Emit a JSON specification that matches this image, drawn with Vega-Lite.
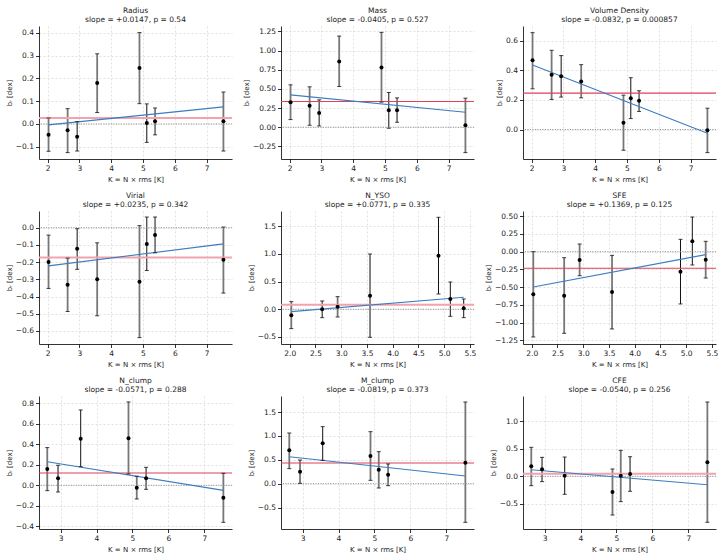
{
  "$schema": "https://vega.github.io/schema/vega-lite/v6.json",
  "padding": {"left": 5, "top": 6, "right": 5, "bottom": 1},
  "background": "white",
  "datasets": {
    "pts": [
      {"p": "Radius", "K": 2.03, "b": -0.047, "lo": -0.12, "hi": 0.026, "q": "l"},
      {"p": "Radius", "K": 2.63, "b": -0.028, "lo": -0.126, "hi": 0.067, "q": "l"},
      {"p": "Radius", "K": 2.93, "b": -0.056, "lo": -0.119, "hi": 0.01, "q": "d"},
      {"p": "Radius", "K": 3.56, "b": 0.18, "lo": 0.05, "hi": 0.308, "q": "l"},
      {"p": "Radius", "K": 4.89, "b": 0.246, "lo": 0.089, "hi": 0.401, "q": "l"},
      {"p": "Radius", "K": 5.12, "b": 0.004, "lo": -0.081, "hi": 0.088, "q": "d"},
      {"p": "Radius", "K": 5.38, "b": 0.012, "lo": -0.048, "hi": 0.07, "q": "d"},
      {"p": "Radius", "K": 7.53, "b": 0.012, "lo": -0.119, "hi": 0.14, "q": "l"},
      {"p": "Mass", "K": 2.03, "b": 0.327, "lo": 0.1, "hi": 0.553, "q": "l"},
      {"p": "Mass", "K": 2.63, "b": 0.279, "lo": 0.026, "hi": 0.527, "q": "l"},
      {"p": "Mass", "K": 2.93, "b": 0.187, "lo": 0.017, "hi": 0.357, "q": "d"},
      {"p": "Mass", "K": 3.56, "b": 0.858, "lo": 0.531, "hi": 1.189, "q": "l"},
      {"p": "Mass", "K": 4.89, "b": 0.78, "lo": 0.327, "hi": 1.237, "q": "l"},
      {"p": "Mass", "K": 5.12, "b": 0.222, "lo": -0.013, "hi": 0.453, "q": "d"},
      {"p": "Mass", "K": 5.38, "b": 0.222, "lo": 0.065, "hi": 0.383, "q": "d"},
      {"p": "Mass", "K": 7.53, "b": 0.026, "lo": -0.331, "hi": 0.379, "q": "l"},
      {"p": "VD", "K": 2.03, "b": 0.467, "lo": 0.275, "hi": 0.654, "q": "l"},
      {"p": "VD", "K": 2.63, "b": 0.37, "lo": 0.203, "hi": 0.535, "q": "l"},
      {"p": "VD", "K": 2.93, "b": 0.359, "lo": 0.219, "hi": 0.499, "q": "d"},
      {"p": "VD", "K": 3.56, "b": 0.325, "lo": 0.214, "hi": 0.438, "q": "l"},
      {"p": "VD", "K": 4.89, "b": 0.045, "lo": -0.14, "hi": 0.232, "q": "l"},
      {"p": "VD", "K": 5.12, "b": 0.212, "lo": 0.074, "hi": 0.35, "q": "d"},
      {"p": "VD", "K": 5.38, "b": 0.194, "lo": 0.122, "hi": 0.262, "q": "d"},
      {"p": "VD", "K": 7.53, "b": -0.005, "lo": -0.156, "hi": 0.144, "q": "l"},
      {"p": "Virial", "K": 2.03, "b": -0.199, "lo": -0.353, "hi": -0.043, "q": "l"},
      {"p": "Virial", "K": 2.63, "b": -0.331, "lo": -0.487, "hi": -0.177, "q": "l"},
      {"p": "Virial", "K": 2.93, "b": -0.123, "lo": -0.242, "hi": -0.006, "q": "d"},
      {"p": "Virial", "K": 3.56, "b": -0.3, "lo": -0.512, "hi": -0.088, "q": "l"},
      {"p": "Virial", "K": 4.89, "b": -0.314, "lo": -0.639, "hi": 0.012, "q": "l"},
      {"p": "Virial", "K": 5.12, "b": -0.095, "lo": -0.249, "hi": 0.062, "q": "d"},
      {"p": "Virial", "K": 5.38, "b": -0.043, "lo": -0.146, "hi": 0.062, "q": "d"},
      {"p": "Virial", "K": 7.53, "b": -0.187, "lo": -0.38, "hi": 0.004, "q": "l"},
      {"p": "NYSO", "K": 2.03, "b": -0.108, "lo": -0.349, "hi": 0.139, "q": "l"},
      {"p": "NYSO", "K": 2.63, "b": 0.0, "lo": -0.151, "hi": 0.151, "q": "d"},
      {"p": "NYSO", "K": 2.93, "b": 0.048, "lo": -0.139, "hi": 0.229, "q": "l"},
      {"p": "NYSO", "K": 3.56, "b": 0.247, "lo": -0.506, "hi": 1.0, "q": "l"},
      {"p": "NYSO", "K": 4.89, "b": 0.97, "lo": 0.277, "hi": 1.663, "q": "d"},
      {"p": "NYSO", "K": 5.12, "b": 0.187, "lo": -0.127, "hi": 0.494, "q": "d"},
      {"p": "NYSO", "K": 5.38, "b": 0.018, "lo": -0.151, "hi": 0.187, "q": "d"},
      {"p": "SFE", "K": 2.03, "b": -0.602, "lo": -1.204, "hi": 0.0, "q": "l"},
      {"p": "SFE", "K": 2.63, "b": -0.621, "lo": -1.152, "hi": -0.085, "q": "l"},
      {"p": "SFE", "K": 2.93, "b": -0.118, "lo": -0.339, "hi": 0.108, "q": "l"},
      {"p": "SFE", "K": 3.56, "b": -0.569, "lo": -1.091, "hi": -0.052, "q": "l"},
      {"p": "SFE", "K": 4.89, "b": -0.282, "lo": -0.738, "hi": 0.174, "q": "d"},
      {"p": "SFE", "K": 5.12, "b": 0.146, "lo": -0.188, "hi": 0.489, "q": "d"},
      {"p": "SFE", "K": 5.38, "b": -0.113, "lo": -0.372, "hi": 0.146, "q": "l"},
      {"p": "Nclump", "K": 2.63, "b": 0.159, "lo": -0.052, "hi": 0.367, "q": "l"},
      {"p": "Nclump", "K": 2.93, "b": 0.068, "lo": -0.065, "hi": 0.195, "q": "l"},
      {"p": "Nclump", "K": 3.56, "b": 0.454, "lo": 0.182, "hi": 0.733, "q": "d"},
      {"p": "Nclump", "K": 4.89, "b": 0.457, "lo": 0.11, "hi": 0.811, "q": "l"},
      {"p": "Nclump", "K": 5.12, "b": -0.023, "lo": -0.133, "hi": 0.088, "q": "l"},
      {"p": "Nclump", "K": 5.38, "b": 0.068, "lo": -0.039, "hi": 0.175, "q": "l"},
      {"p": "Nclump", "K": 7.53, "b": -0.12, "lo": -0.36, "hi": 0.117, "q": "l"},
      {"p": "Mclump", "K": 2.63, "b": 0.699, "lo": 0.315, "hi": 1.063, "q": "l"},
      {"p": "Mclump", "K": 2.93, "b": 0.252, "lo": 0.007, "hi": 0.497, "q": "l"},
      {"p": "Mclump", "K": 3.56, "b": 0.846, "lo": 0.49, "hi": 1.196, "q": "d"},
      {"p": "Mclump", "K": 4.89, "b": 0.58, "lo": 0.07, "hi": 1.091, "q": "l"},
      {"p": "Mclump", "K": 5.12, "b": 0.294, "lo": -0.091, "hi": 0.671, "q": "l"},
      {"p": "Mclump", "K": 5.38, "b": 0.189, "lo": -0.042, "hi": 0.413, "q": "l"},
      {"p": "Mclump", "K": 7.53, "b": 0.441, "lo": -0.811, "hi": 1.713, "q": "l"},
      {"p": "CFE", "K": 2.63, "b": 0.181, "lo": -0.169, "hi": 0.524, "q": "l"},
      {"p": "CFE", "K": 2.93, "b": 0.127, "lo": -0.096, "hi": 0.343, "q": "l"},
      {"p": "CFE", "K": 3.56, "b": 0.012, "lo": -0.325, "hi": 0.349, "q": "d"},
      {"p": "CFE", "K": 4.89, "b": -0.283, "lo": -0.699, "hi": 0.133, "q": "l"},
      {"p": "CFE", "K": 5.12, "b": 0.012, "lo": -0.458, "hi": 0.47, "q": "l"},
      {"p": "CFE", "K": 5.38, "b": 0.042, "lo": -0.271, "hi": 0.355, "q": "l"},
      {"p": "CFE", "K": 7.53, "b": 0.253, "lo": -0.831, "hi": 1.343, "q": "l"}
    ],
    "means": [
      {"p": "Radius", "mean": 0.026, "kind": "pink"},
      {"p": "Mass", "mean": 0.335, "kind": "red"},
      {"p": "VD", "mean": 0.246, "kind": "red"},
      {"p": "Virial", "mean": -0.173, "kind": "pink"},
      {"p": "NYSO", "mean": 0.084, "kind": "pink"},
      {"p": "SFE", "mean": -0.235, "kind": "red"},
      {"p": "Nclump", "mean": 0.12, "kind": "red"},
      {"p": "Mclump", "mean": 0.434, "kind": "red"},
      {"p": "CFE", "mean": 0.048, "kind": "pink"}
    ],
    "fits": [
      {"p": "Radius", "K": 2.03, "fit": -0.004}, {"p": "Radius", "K": 7.53, "fit": 0.075},
      {"p": "Mass", "K": 2.03, "fit": 0.422}, {"p": "Mass", "K": 7.53, "fit": 0.196},
      {"p": "VD", "K": 2.03, "fit": 0.435}, {"p": "VD", "K": 7.53, "fit": -0.025},
      {"p": "Virial", "K": 2.03, "fit": -0.222}, {"p": "Virial", "K": 7.53, "fit": -0.094},
      {"p": "NYSO", "K": 2.03, "fit": -0.042}, {"p": "NYSO", "K": 5.38, "fit": 0.217},
      {"p": "SFE", "K": 2.03, "fit": -0.499}, {"p": "SFE", "K": 5.38, "fit": -0.042},
      {"p": "Nclump", "K": 2.63, "fit": 0.23}, {"p": "Nclump", "K": 7.53, "fit": -0.049},
      {"p": "Mclump", "K": 2.63, "fit": 0.566}, {"p": "Mclump", "K": 7.53, "fit": 0.161},
      {"p": "CFE", "K": 2.63, "fit": 0.12}, {"p": "CFE", "K": 7.53, "fit": -0.151}
    ]
  },
  "columns": 3,
  "bounds": "flush",
  "spacing": {"row": 52, "column": 49},
  "concat": [
    {
      "title": {"text": ["Radius", "slope = +0.0147, p = 0.54"]},
      "width": 193, "height": 133,
      "layer": [
        {"data": {"name": "pts"}, "transform": [{"filter": "datum.p == 'Radius'"}], "mark": "rule", "encoding": {
          "x": {"field": "K", "type": "quantitative", "scale": {"domain": [1.73, 7.8], "nice": false, "zero": false}, "axis": {"title": "K = N × rms [K]", "values": [2, 3, 4, 5, 6, 7], "format": "d"}},
          "y": {"field": "lo", "type": "quantitative", "scale": {"domain": [-0.154, 0.43], "nice": false, "zero": false}, "axis": {"title": "bᵣ [dex]", "values": [-0.1, 0, 0.1, 0.2, 0.3, 0.4], "format": ".1f"}},
          "y2": {"field": "hi"},
          "color": {"condition": {"test": "datum.q == 'd'", "value": "#111111"}, "value": "#777777"},
          "strokeWidth": {"condition": {"test": "datum.q == 'd'", "value": 1}, "value": 1.8}}},
        {"data": {"values": [{}]}, "mark": {"type": "rule", "color": "#8c8c8c", "strokeDash": [1.2, 1.3], "strokeWidth": 0.9}, "encoding": {
          "y": {"datum": 0, "type": "quantitative", "scale": {"domain": [-0.154, 0.43], "nice": false, "zero": false}, "axis": {"title": "bᵣ [dex]", "values": [-0.1, 0, 0.1, 0.2, 0.3, 0.4], "format": ".1f"}}}},
        {"data": {"name": "means"}, "transform": [{"filter": "datum.p == 'Radius'"}], "mark": "rule", "encoding": {
          "y": {"field": "mean", "type": "quantitative", "scale": {"domain": [-0.154, 0.43], "nice": false, "zero": false}, "axis": {"title": "bᵣ [dex]", "values": [-0.1, 0, 0.1, 0.2, 0.3, 0.4], "format": ".1f"}},
          "color": {"condition": {"test": "datum.kind == 'pink'", "value": "#f2a3ad"}, "value": "#e0405a"}, "strokeWidth": {"condition": {"test": "datum.kind == 'pink'", "value": 2}, "value": 1.1}}},
        {"data": {"name": "fits"}, "transform": [{"filter": "datum.p == 'Radius'"}], "mark": {"type": "line", "color": "#3a7dc0", "strokeWidth": 1.1}, "encoding": {
          "x": {"field": "K", "type": "quantitative", "scale": {"domain": [1.73, 7.8], "nice": false, "zero": false}, "axis": {"title": "K = N × rms [K]", "values": [2, 3, 4, 5, 6, 7], "format": "d"}},
          "y": {"field": "fit", "type": "quantitative", "scale": {"domain": [-0.154, 0.43], "nice": false, "zero": false}, "axis": {"title": "bᵣ [dex]", "values": [-0.1, 0, 0.1, 0.2, 0.3, 0.4], "format": ".1f"}}}},
        {"data": {"name": "pts"}, "transform": [{"filter": "datum.p == 'Radius'"}], "mark": {"type": "point", "shape": "M-1,0L1,0", "size": 16, "filled": false, "strokeWidth": 0.8, "color": "#111111", "opacity": 1}, "encoding": {
          "x": {"field": "K", "type": "quantitative", "scale": {"domain": [1.73, 7.8], "nice": false, "zero": false}, "axis": {"title": "K = N × rms [K]", "values": [2, 3, 4, 5, 6, 7], "format": "d"}},
          "y": {"field": "lo", "type": "quantitative", "scale": {"domain": [-0.154, 0.43], "nice": false, "zero": false}, "axis": {"title": "bᵣ [dex]", "values": [-0.1, 0, 0.1, 0.2, 0.3, 0.4], "format": ".1f"}}}},
        {"data": {"name": "pts"}, "transform": [{"filter": "datum.p == 'Radius'"}], "mark": {"type": "point", "shape": "M-1,0L1,0", "size": 16, "filled": false, "strokeWidth": 0.8, "color": "#111111", "opacity": 1}, "encoding": {
          "x": {"field": "K", "type": "quantitative", "scale": {"domain": [1.73, 7.8], "nice": false, "zero": false}, "axis": {"title": "K = N × rms [K]", "values": [2, 3, 4, 5, 6, 7], "format": "d"}},
          "y": {"field": "hi", "type": "quantitative", "scale": {"domain": [-0.154, 0.43], "nice": false, "zero": false}, "axis": {"title": "bᵣ [dex]", "values": [-0.1, 0, 0.1, 0.2, 0.3, 0.4], "format": ".1f"}}}},
        {"data": {"name": "pts"}, "transform": [{"filter": "datum.p == 'Radius'"}], "mark": {"type": "circle", "size": 16, "color": "#000000", "opacity": 1}, "encoding": {
          "x": {"field": "K", "type": "quantitative", "scale": {"domain": [1.73, 7.8], "nice": false, "zero": false}, "axis": {"title": "K = N × rms [K]", "values": [2, 3, 4, 5, 6, 7], "format": "d"}},
          "y": {"field": "b", "type": "quantitative", "scale": {"domain": [-0.154, 0.43], "nice": false, "zero": false}, "axis": {"title": "bᵣ [dex]", "values": [-0.1, 0, 0.1, 0.2, 0.3, 0.4], "format": ".1f"}}}}
      ]
    },
    {
      "title": {"text": ["Mass", "slope = -0.0405, p = 0.527"]},
      "width": 193, "height": 133,
      "layer": [
        {"data": {"name": "pts"}, "transform": [{"filter": "datum.p == 'Mass'"}], "mark": "rule", "encoding": {
          "x": {"field": "K", "type": "quantitative", "scale": {"domain": [1.73, 7.8], "nice": false, "zero": false}, "axis": {"title": "K = N × rms [K]", "values": [2, 3, 4, 5, 6, 7], "format": "d"}},
          "y": {"field": "lo", "type": "quantitative", "scale": {"domain": [-0.414, 1.32], "nice": false, "zero": false}, "axis": {"title": "bᵣ [dex]", "values": [-0.25, 0, 0.25, 0.5, 0.75, 1, 1.25], "format": ".2f"}},
          "y2": {"field": "hi"},
          "color": {"condition": {"test": "datum.q == 'd'", "value": "#111111"}, "value": "#777777"},
          "strokeWidth": {"condition": {"test": "datum.q == 'd'", "value": 1}, "value": 1.8}}},
        {"data": {"values": [{}]}, "mark": {"type": "rule", "color": "#8c8c8c", "strokeDash": [1.2, 1.3], "strokeWidth": 0.9}, "encoding": {
          "y": {"datum": 0, "type": "quantitative", "scale": {"domain": [-0.414, 1.32], "nice": false, "zero": false}, "axis": {"title": "bᵣ [dex]", "values": [-0.25, 0, 0.25, 0.5, 0.75, 1, 1.25], "format": ".2f"}}}},
        {"data": {"name": "means"}, "transform": [{"filter": "datum.p == 'Mass'"}], "mark": "rule", "encoding": {
          "y": {"field": "mean", "type": "quantitative", "scale": {"domain": [-0.414, 1.32], "nice": false, "zero": false}, "axis": {"title": "bᵣ [dex]", "values": [-0.25, 0, 0.25, 0.5, 0.75, 1, 1.25], "format": ".2f"}},
          "color": {"condition": {"test": "datum.kind == 'pink'", "value": "#f2a3ad"}, "value": "#e0405a"}, "strokeWidth": {"condition": {"test": "datum.kind == 'pink'", "value": 2}, "value": 1.1}}},
        {"data": {"name": "fits"}, "transform": [{"filter": "datum.p == 'Mass'"}], "mark": {"type": "line", "color": "#3a7dc0", "strokeWidth": 1.1}, "encoding": {
          "x": {"field": "K", "type": "quantitative", "scale": {"domain": [1.73, 7.8], "nice": false, "zero": false}, "axis": {"title": "K = N × rms [K]", "values": [2, 3, 4, 5, 6, 7], "format": "d"}},
          "y": {"field": "fit", "type": "quantitative", "scale": {"domain": [-0.414, 1.32], "nice": false, "zero": false}, "axis": {"title": "bᵣ [dex]", "values": [-0.25, 0, 0.25, 0.5, 0.75, 1, 1.25], "format": ".2f"}}}},
        {"data": {"name": "pts"}, "transform": [{"filter": "datum.p == 'Mass'"}], "mark": {"type": "point", "shape": "M-1,0L1,0", "size": 16, "filled": false, "strokeWidth": 0.8, "color": "#111111", "opacity": 1}, "encoding": {
          "x": {"field": "K", "type": "quantitative", "scale": {"domain": [1.73, 7.8], "nice": false, "zero": false}, "axis": {"title": "K = N × rms [K]", "values": [2, 3, 4, 5, 6, 7], "format": "d"}},
          "y": {"field": "lo", "type": "quantitative", "scale": {"domain": [-0.414, 1.32], "nice": false, "zero": false}, "axis": {"title": "bᵣ [dex]", "values": [-0.25, 0, 0.25, 0.5, 0.75, 1, 1.25], "format": ".2f"}}}},
        {"data": {"name": "pts"}, "transform": [{"filter": "datum.p == 'Mass'"}], "mark": {"type": "point", "shape": "M-1,0L1,0", "size": 16, "filled": false, "strokeWidth": 0.8, "color": "#111111", "opacity": 1}, "encoding": {
          "x": {"field": "K", "type": "quantitative", "scale": {"domain": [1.73, 7.8], "nice": false, "zero": false}, "axis": {"title": "K = N × rms [K]", "values": [2, 3, 4, 5, 6, 7], "format": "d"}},
          "y": {"field": "hi", "type": "quantitative", "scale": {"domain": [-0.414, 1.32], "nice": false, "zero": false}, "axis": {"title": "bᵣ [dex]", "values": [-0.25, 0, 0.25, 0.5, 0.75, 1, 1.25], "format": ".2f"}}}},
        {"data": {"name": "pts"}, "transform": [{"filter": "datum.p == 'Mass'"}], "mark": {"type": "circle", "size": 16, "color": "#000000", "opacity": 1}, "encoding": {
          "x": {"field": "K", "type": "quantitative", "scale": {"domain": [1.73, 7.8], "nice": false, "zero": false}, "axis": {"title": "K = N × rms [K]", "values": [2, 3, 4, 5, 6, 7], "format": "d"}},
          "y": {"field": "b", "type": "quantitative", "scale": {"domain": [-0.414, 1.32], "nice": false, "zero": false}, "axis": {"title": "bᵣ [dex]", "values": [-0.25, 0, 0.25, 0.5, 0.75, 1, 1.25], "format": ".2f"}}}}
      ]
    },
    {
      "title": {"text": ["Volume Density", "slope = -0.0832, p = 0.000857"]},
      "width": 193, "height": 133,
      "layer": [
        {"data": {"name": "pts"}, "transform": [{"filter": "datum.p == 'VD'"}], "mark": "rule", "encoding": {
          "x": {"field": "K", "type": "quantitative", "scale": {"domain": [1.73, 7.8], "nice": false, "zero": false}, "axis": {"title": "K = N × rms [K]", "values": [2, 3, 4, 5, 6, 7], "format": "d"}},
          "y": {"field": "lo", "type": "quantitative", "scale": {"domain": [-0.199, 0.699], "nice": false, "zero": false}, "axis": {"title": "bᵣ [dex]", "values": [0, 0.2, 0.4, 0.6], "format": ".1f"}},
          "y2": {"field": "hi"},
          "color": {"condition": {"test": "datum.q == 'd'", "value": "#111111"}, "value": "#777777"},
          "strokeWidth": {"condition": {"test": "datum.q == 'd'", "value": 1}, "value": 1.8}}},
        {"data": {"values": [{}]}, "mark": {"type": "rule", "color": "#8c8c8c", "strokeDash": [1.2, 1.3], "strokeWidth": 0.9}, "encoding": {
          "y": {"datum": 0, "type": "quantitative", "scale": {"domain": [-0.199, 0.699], "nice": false, "zero": false}, "axis": {"title": "bᵣ [dex]", "values": [0, 0.2, 0.4, 0.6], "format": ".1f"}}}},
        {"data": {"name": "means"}, "transform": [{"filter": "datum.p == 'VD'"}], "mark": "rule", "encoding": {
          "y": {"field": "mean", "type": "quantitative", "scale": {"domain": [-0.199, 0.699], "nice": false, "zero": false}, "axis": {"title": "bᵣ [dex]", "values": [0, 0.2, 0.4, 0.6], "format": ".1f"}},
          "color": {"condition": {"test": "datum.kind == 'pink'", "value": "#f2a3ad"}, "value": "#e0405a"}, "strokeWidth": {"condition": {"test": "datum.kind == 'pink'", "value": 2}, "value": 1.1}}},
        {"data": {"name": "fits"}, "transform": [{"filter": "datum.p == 'VD'"}], "mark": {"type": "line", "color": "#3a7dc0", "strokeWidth": 1.1}, "encoding": {
          "x": {"field": "K", "type": "quantitative", "scale": {"domain": [1.73, 7.8], "nice": false, "zero": false}, "axis": {"title": "K = N × rms [K]", "values": [2, 3, 4, 5, 6, 7], "format": "d"}},
          "y": {"field": "fit", "type": "quantitative", "scale": {"domain": [-0.199, 0.699], "nice": false, "zero": false}, "axis": {"title": "bᵣ [dex]", "values": [0, 0.2, 0.4, 0.6], "format": ".1f"}}}},
        {"data": {"name": "pts"}, "transform": [{"filter": "datum.p == 'VD'"}], "mark": {"type": "point", "shape": "M-1,0L1,0", "size": 16, "filled": false, "strokeWidth": 0.8, "color": "#111111", "opacity": 1}, "encoding": {
          "x": {"field": "K", "type": "quantitative", "scale": {"domain": [1.73, 7.8], "nice": false, "zero": false}, "axis": {"title": "K = N × rms [K]", "values": [2, 3, 4, 5, 6, 7], "format": "d"}},
          "y": {"field": "lo", "type": "quantitative", "scale": {"domain": [-0.199, 0.699], "nice": false, "zero": false}, "axis": {"title": "bᵣ [dex]", "values": [0, 0.2, 0.4, 0.6], "format": ".1f"}}}},
        {"data": {"name": "pts"}, "transform": [{"filter": "datum.p == 'VD'"}], "mark": {"type": "point", "shape": "M-1,0L1,0", "size": 16, "filled": false, "strokeWidth": 0.8, "color": "#111111", "opacity": 1}, "encoding": {
          "x": {"field": "K", "type": "quantitative", "scale": {"domain": [1.73, 7.8], "nice": false, "zero": false}, "axis": {"title": "K = N × rms [K]", "values": [2, 3, 4, 5, 6, 7], "format": "d"}},
          "y": {"field": "hi", "type": "quantitative", "scale": {"domain": [-0.199, 0.699], "nice": false, "zero": false}, "axis": {"title": "bᵣ [dex]", "values": [0, 0.2, 0.4, 0.6], "format": ".1f"}}}},
        {"data": {"name": "pts"}, "transform": [{"filter": "datum.p == 'VD'"}], "mark": {"type": "circle", "size": 16, "color": "#000000", "opacity": 1}, "encoding": {
          "x": {"field": "K", "type": "quantitative", "scale": {"domain": [1.73, 7.8], "nice": false, "zero": false}, "axis": {"title": "K = N × rms [K]", "values": [2, 3, 4, 5, 6, 7], "format": "d"}},
          "y": {"field": "b", "type": "quantitative", "scale": {"domain": [-0.199, 0.699], "nice": false, "zero": false}, "axis": {"title": "bᵣ [dex]", "values": [0, 0.2, 0.4, 0.6], "format": ".1f"}}}}
      ]
    },
    {
      "title": {"text": ["Virial", "slope = +0.0235, p = 0.342"]},
      "width": 193, "height": 133,
      "layer": [
        {"data": {"name": "pts"}, "transform": [{"filter": "datum.p == 'Virial'"}], "mark": "rule", "encoding": {
          "x": {"field": "K", "type": "quantitative", "scale": {"domain": [1.73, 7.8], "nice": false, "zero": false}, "axis": {"title": "K = N × rms [K]", "values": [2, 3, 4, 5, 6, 7], "format": "d"}},
          "y": {"field": "lo", "type": "quantitative", "scale": {"domain": [-0.676, 0.097], "nice": false, "zero": false}, "axis": {"title": "bᵣ [dex]", "values": [-0.6, -0.5, -0.4, -0.3, -0.2, -0.1, 0], "format": ".1f"}},
          "y2": {"field": "hi"},
          "color": {"condition": {"test": "datum.q == 'd'", "value": "#111111"}, "value": "#777777"},
          "strokeWidth": {"condition": {"test": "datum.q == 'd'", "value": 1}, "value": 1.8}}},
        {"data": {"values": [{}]}, "mark": {"type": "rule", "color": "#8c8c8c", "strokeDash": [1.2, 1.3], "strokeWidth": 0.9}, "encoding": {
          "y": {"datum": 0, "type": "quantitative", "scale": {"domain": [-0.676, 0.097], "nice": false, "zero": false}, "axis": {"title": "bᵣ [dex]", "values": [-0.6, -0.5, -0.4, -0.3, -0.2, -0.1, 0], "format": ".1f"}}}},
        {"data": {"name": "means"}, "transform": [{"filter": "datum.p == 'Virial'"}], "mark": "rule", "encoding": {
          "y": {"field": "mean", "type": "quantitative", "scale": {"domain": [-0.676, 0.097], "nice": false, "zero": false}, "axis": {"title": "bᵣ [dex]", "values": [-0.6, -0.5, -0.4, -0.3, -0.2, -0.1, 0], "format": ".1f"}},
          "color": {"condition": {"test": "datum.kind == 'pink'", "value": "#f2a3ad"}, "value": "#e0405a"}, "strokeWidth": {"condition": {"test": "datum.kind == 'pink'", "value": 2}, "value": 1.1}}},
        {"data": {"name": "fits"}, "transform": [{"filter": "datum.p == 'Virial'"}], "mark": {"type": "line", "color": "#3a7dc0", "strokeWidth": 1.1}, "encoding": {
          "x": {"field": "K", "type": "quantitative", "scale": {"domain": [1.73, 7.8], "nice": false, "zero": false}, "axis": {"title": "K = N × rms [K]", "values": [2, 3, 4, 5, 6, 7], "format": "d"}},
          "y": {"field": "fit", "type": "quantitative", "scale": {"domain": [-0.676, 0.097], "nice": false, "zero": false}, "axis": {"title": "bᵣ [dex]", "values": [-0.6, -0.5, -0.4, -0.3, -0.2, -0.1, 0], "format": ".1f"}}}},
        {"data": {"name": "pts"}, "transform": [{"filter": "datum.p == 'Virial'"}], "mark": {"type": "point", "shape": "M-1,0L1,0", "size": 16, "filled": false, "strokeWidth": 0.8, "color": "#111111", "opacity": 1}, "encoding": {
          "x": {"field": "K", "type": "quantitative", "scale": {"domain": [1.73, 7.8], "nice": false, "zero": false}, "axis": {"title": "K = N × rms [K]", "values": [2, 3, 4, 5, 6, 7], "format": "d"}},
          "y": {"field": "lo", "type": "quantitative", "scale": {"domain": [-0.676, 0.097], "nice": false, "zero": false}, "axis": {"title": "bᵣ [dex]", "values": [-0.6, -0.5, -0.4, -0.3, -0.2, -0.1, 0], "format": ".1f"}}}},
        {"data": {"name": "pts"}, "transform": [{"filter": "datum.p == 'Virial'"}], "mark": {"type": "point", "shape": "M-1,0L1,0", "size": 16, "filled": false, "strokeWidth": 0.8, "color": "#111111", "opacity": 1}, "encoding": {
          "x": {"field": "K", "type": "quantitative", "scale": {"domain": [1.73, 7.8], "nice": false, "zero": false}, "axis": {"title": "K = N × rms [K]", "values": [2, 3, 4, 5, 6, 7], "format": "d"}},
          "y": {"field": "hi", "type": "quantitative", "scale": {"domain": [-0.676, 0.097], "nice": false, "zero": false}, "axis": {"title": "bᵣ [dex]", "values": [-0.6, -0.5, -0.4, -0.3, -0.2, -0.1, 0], "format": ".1f"}}}},
        {"data": {"name": "pts"}, "transform": [{"filter": "datum.p == 'Virial'"}], "mark": {"type": "circle", "size": 16, "color": "#000000", "opacity": 1}, "encoding": {
          "x": {"field": "K", "type": "quantitative", "scale": {"domain": [1.73, 7.8], "nice": false, "zero": false}, "axis": {"title": "K = N × rms [K]", "values": [2, 3, 4, 5, 6, 7], "format": "d"}},
          "y": {"field": "b", "type": "quantitative", "scale": {"domain": [-0.676, 0.097], "nice": false, "zero": false}, "axis": {"title": "bᵣ [dex]", "values": [-0.6, -0.5, -0.4, -0.3, -0.2, -0.1, 0], "format": ".1f"}}}}
      ]
    },
    {
      "title": {"text": ["N_YSO", "slope = +0.0771, p = 0.335"]},
      "width": 193, "height": 133,
      "layer": [
        {"data": {"name": "pts"}, "transform": [{"filter": "datum.p == 'NYSO'"}], "mark": "rule", "encoding": {
          "x": {"field": "K", "type": "quantitative", "scale": {"domain": [1.83, 5.58], "nice": false, "zero": false}, "axis": {"title": "K = N × rms [K]", "values": [2, 2.5, 3, 3.5, 4, 4.5, 5, 5.5], "format": ".1f"}},
          "y": {"field": "lo", "type": "quantitative", "scale": {"domain": [-0.627, 1.777], "nice": false, "zero": false}, "axis": {"title": "bᵣ [dex]", "values": [-0.5, 0, 0.5, 1, 1.5], "format": ".1f"}},
          "y2": {"field": "hi"},
          "color": {"condition": {"test": "datum.q == 'd'", "value": "#111111"}, "value": "#777777"},
          "strokeWidth": {"condition": {"test": "datum.q == 'd'", "value": 1}, "value": 1.8}}},
        {"data": {"values": [{}]}, "mark": {"type": "rule", "color": "#8c8c8c", "strokeDash": [1.2, 1.3], "strokeWidth": 0.9}, "encoding": {
          "y": {"datum": 0, "type": "quantitative", "scale": {"domain": [-0.627, 1.777], "nice": false, "zero": false}, "axis": {"title": "bᵣ [dex]", "values": [-0.5, 0, 0.5, 1, 1.5], "format": ".1f"}}}},
        {"data": {"name": "means"}, "transform": [{"filter": "datum.p == 'NYSO'"}], "mark": "rule", "encoding": {
          "y": {"field": "mean", "type": "quantitative", "scale": {"domain": [-0.627, 1.777], "nice": false, "zero": false}, "axis": {"title": "bᵣ [dex]", "values": [-0.5, 0, 0.5, 1, 1.5], "format": ".1f"}},
          "color": {"condition": {"test": "datum.kind == 'pink'", "value": "#f2a3ad"}, "value": "#e0405a"}, "strokeWidth": {"condition": {"test": "datum.kind == 'pink'", "value": 2}, "value": 1.1}}},
        {"data": {"name": "fits"}, "transform": [{"filter": "datum.p == 'NYSO'"}], "mark": {"type": "line", "color": "#3a7dc0", "strokeWidth": 1.1}, "encoding": {
          "x": {"field": "K", "type": "quantitative", "scale": {"domain": [1.83, 5.58], "nice": false, "zero": false}, "axis": {"title": "K = N × rms [K]", "values": [2, 2.5, 3, 3.5, 4, 4.5, 5, 5.5], "format": ".1f"}},
          "y": {"field": "fit", "type": "quantitative", "scale": {"domain": [-0.627, 1.777], "nice": false, "zero": false}, "axis": {"title": "bᵣ [dex]", "values": [-0.5, 0, 0.5, 1, 1.5], "format": ".1f"}}}},
        {"data": {"name": "pts"}, "transform": [{"filter": "datum.p == 'NYSO'"}], "mark": {"type": "point", "shape": "M-1,0L1,0", "size": 16, "filled": false, "strokeWidth": 0.8, "color": "#111111", "opacity": 1}, "encoding": {
          "x": {"field": "K", "type": "quantitative", "scale": {"domain": [1.83, 5.58], "nice": false, "zero": false}, "axis": {"title": "K = N × rms [K]", "values": [2, 2.5, 3, 3.5, 4, 4.5, 5, 5.5], "format": ".1f"}},
          "y": {"field": "lo", "type": "quantitative", "scale": {"domain": [-0.627, 1.777], "nice": false, "zero": false}, "axis": {"title": "bᵣ [dex]", "values": [-0.5, 0, 0.5, 1, 1.5], "format": ".1f"}}}},
        {"data": {"name": "pts"}, "transform": [{"filter": "datum.p == 'NYSO'"}], "mark": {"type": "point", "shape": "M-1,0L1,0", "size": 16, "filled": false, "strokeWidth": 0.8, "color": "#111111", "opacity": 1}, "encoding": {
          "x": {"field": "K", "type": "quantitative", "scale": {"domain": [1.83, 5.58], "nice": false, "zero": false}, "axis": {"title": "K = N × rms [K]", "values": [2, 2.5, 3, 3.5, 4, 4.5, 5, 5.5], "format": ".1f"}},
          "y": {"field": "hi", "type": "quantitative", "scale": {"domain": [-0.627, 1.777], "nice": false, "zero": false}, "axis": {"title": "bᵣ [dex]", "values": [-0.5, 0, 0.5, 1, 1.5], "format": ".1f"}}}},
        {"data": {"name": "pts"}, "transform": [{"filter": "datum.p == 'NYSO'"}], "mark": {"type": "circle", "size": 16, "color": "#000000", "opacity": 1}, "encoding": {
          "x": {"field": "K", "type": "quantitative", "scale": {"domain": [1.83, 5.58], "nice": false, "zero": false}, "axis": {"title": "K = N × rms [K]", "values": [2, 2.5, 3, 3.5, 4, 4.5, 5, 5.5], "format": ".1f"}},
          "y": {"field": "b", "type": "quantitative", "scale": {"domain": [-0.627, 1.777], "nice": false, "zero": false}, "axis": {"title": "bᵣ [dex]", "values": [-0.5, 0, 0.5, 1, 1.5], "format": ".1f"}}}}
      ]
    },
    {
      "title": {"text": ["SFE", "slope = +0.1369, p = 0.125"]},
      "width": 193, "height": 133,
      "layer": [
        {"data": {"name": "pts"}, "transform": [{"filter": "datum.p == 'SFE'"}], "mark": "rule", "encoding": {
          "x": {"field": "K", "type": "quantitative", "scale": {"domain": [1.83, 5.58], "nice": false, "zero": false}, "axis": {"title": "K = N × rms [K]", "values": [2, 2.5, 3, 3.5, 4, 4.5, 5, 5.5], "format": ".1f"}},
          "y": {"field": "lo", "type": "quantitative", "scale": {"domain": [-1.303, 0.574], "nice": false, "zero": false}, "axis": {"title": "bᵣ [dex]", "values": [-1.25, -1, -0.75, -0.5, -0.25, 0, 0.25, 0.5], "format": ".2f"}},
          "y2": {"field": "hi"},
          "color": {"condition": {"test": "datum.q == 'd'", "value": "#111111"}, "value": "#777777"},
          "strokeWidth": {"condition": {"test": "datum.q == 'd'", "value": 1}, "value": 1.8}}},
        {"data": {"values": [{}]}, "mark": {"type": "rule", "color": "#8c8c8c", "strokeDash": [1.2, 1.3], "strokeWidth": 0.9}, "encoding": {
          "y": {"datum": 0, "type": "quantitative", "scale": {"domain": [-1.303, 0.574], "nice": false, "zero": false}, "axis": {"title": "bᵣ [dex]", "values": [-1.25, -1, -0.75, -0.5, -0.25, 0, 0.25, 0.5], "format": ".2f"}}}},
        {"data": {"name": "means"}, "transform": [{"filter": "datum.p == 'SFE'"}], "mark": "rule", "encoding": {
          "y": {"field": "mean", "type": "quantitative", "scale": {"domain": [-1.303, 0.574], "nice": false, "zero": false}, "axis": {"title": "bᵣ [dex]", "values": [-1.25, -1, -0.75, -0.5, -0.25, 0, 0.25, 0.5], "format": ".2f"}},
          "color": {"condition": {"test": "datum.kind == 'pink'", "value": "#f2a3ad"}, "value": "#e0405a"}, "strokeWidth": {"condition": {"test": "datum.kind == 'pink'", "value": 2}, "value": 1.1}}},
        {"data": {"name": "fits"}, "transform": [{"filter": "datum.p == 'SFE'"}], "mark": {"type": "line", "color": "#3a7dc0", "strokeWidth": 1.1}, "encoding": {
          "x": {"field": "K", "type": "quantitative", "scale": {"domain": [1.83, 5.58], "nice": false, "zero": false}, "axis": {"title": "K = N × rms [K]", "values": [2, 2.5, 3, 3.5, 4, 4.5, 5, 5.5], "format": ".1f"}},
          "y": {"field": "fit", "type": "quantitative", "scale": {"domain": [-1.303, 0.574], "nice": false, "zero": false}, "axis": {"title": "bᵣ [dex]", "values": [-1.25, -1, -0.75, -0.5, -0.25, 0, 0.25, 0.5], "format": ".2f"}}}},
        {"data": {"name": "pts"}, "transform": [{"filter": "datum.p == 'SFE'"}], "mark": {"type": "point", "shape": "M-1,0L1,0", "size": 16, "filled": false, "strokeWidth": 0.8, "color": "#111111", "opacity": 1}, "encoding": {
          "x": {"field": "K", "type": "quantitative", "scale": {"domain": [1.83, 5.58], "nice": false, "zero": false}, "axis": {"title": "K = N × rms [K]", "values": [2, 2.5, 3, 3.5, 4, 4.5, 5, 5.5], "format": ".1f"}},
          "y": {"field": "lo", "type": "quantitative", "scale": {"domain": [-1.303, 0.574], "nice": false, "zero": false}, "axis": {"title": "bᵣ [dex]", "values": [-1.25, -1, -0.75, -0.5, -0.25, 0, 0.25, 0.5], "format": ".2f"}}}},
        {"data": {"name": "pts"}, "transform": [{"filter": "datum.p == 'SFE'"}], "mark": {"type": "point", "shape": "M-1,0L1,0", "size": 16, "filled": false, "strokeWidth": 0.8, "color": "#111111", "opacity": 1}, "encoding": {
          "x": {"field": "K", "type": "quantitative", "scale": {"domain": [1.83, 5.58], "nice": false, "zero": false}, "axis": {"title": "K = N × rms [K]", "values": [2, 2.5, 3, 3.5, 4, 4.5, 5, 5.5], "format": ".1f"}},
          "y": {"field": "hi", "type": "quantitative", "scale": {"domain": [-1.303, 0.574], "nice": false, "zero": false}, "axis": {"title": "bᵣ [dex]", "values": [-1.25, -1, -0.75, -0.5, -0.25, 0, 0.25, 0.5], "format": ".2f"}}}},
        {"data": {"name": "pts"}, "transform": [{"filter": "datum.p == 'SFE'"}], "mark": {"type": "circle", "size": 16, "color": "#000000", "opacity": 1}, "encoding": {
          "x": {"field": "K", "type": "quantitative", "scale": {"domain": [1.83, 5.58], "nice": false, "zero": false}, "axis": {"title": "K = N × rms [K]", "values": [2, 2.5, 3, 3.5, 4, 4.5, 5, 5.5], "format": ".1f"}},
          "y": {"field": "b", "type": "quantitative", "scale": {"domain": [-1.303, 0.574], "nice": false, "zero": false}, "axis": {"title": "bᵣ [dex]", "values": [-1.25, -1, -0.75, -0.5, -0.25, 0, 0.25, 0.5], "format": ".2f"}}}}
      ]
    },
    {
      "title": {"text": ["N_clump", "slope = -0.0571, p = 0.288"]},
      "width": 193, "height": 133,
      "layer": [
        {"data": {"name": "pts"}, "transform": [{"filter": "datum.p == 'Nclump'"}], "mark": "rule", "encoding": {
          "x": {"field": "K", "type": "quantitative", "scale": {"domain": [2.4, 7.77], "nice": false, "zero": false}, "axis": {"title": "K = N × rms [K]", "values": [3, 4, 5, 6, 7], "format": "d"}},
          "y": {"field": "lo", "type": "quantitative", "scale": {"domain": [-0.425, 0.869], "nice": false, "zero": false}, "axis": {"title": "bᵣ [dex]", "values": [-0.4, -0.2, 0, 0.2, 0.4, 0.6, 0.8], "format": ".1f"}},
          "y2": {"field": "hi"},
          "color": {"condition": {"test": "datum.q == 'd'", "value": "#111111"}, "value": "#777777"},
          "strokeWidth": {"condition": {"test": "datum.q == 'd'", "value": 1}, "value": 1.8}}},
        {"data": {"values": [{}]}, "mark": {"type": "rule", "color": "#8c8c8c", "strokeDash": [1.2, 1.3], "strokeWidth": 0.9}, "encoding": {
          "y": {"datum": 0, "type": "quantitative", "scale": {"domain": [-0.425, 0.869], "nice": false, "zero": false}, "axis": {"title": "bᵣ [dex]", "values": [-0.4, -0.2, 0, 0.2, 0.4, 0.6, 0.8], "format": ".1f"}}}},
        {"data": {"name": "means"}, "transform": [{"filter": "datum.p == 'Nclump'"}], "mark": "rule", "encoding": {
          "y": {"field": "mean", "type": "quantitative", "scale": {"domain": [-0.425, 0.869], "nice": false, "zero": false}, "axis": {"title": "bᵣ [dex]", "values": [-0.4, -0.2, 0, 0.2, 0.4, 0.6, 0.8], "format": ".1f"}},
          "color": {"condition": {"test": "datum.kind == 'pink'", "value": "#f2a3ad"}, "value": "#e0405a"}, "strokeWidth": {"condition": {"test": "datum.kind == 'pink'", "value": 2}, "value": 1.1}}},
        {"data": {"name": "fits"}, "transform": [{"filter": "datum.p == 'Nclump'"}], "mark": {"type": "line", "color": "#3a7dc0", "strokeWidth": 1.1}, "encoding": {
          "x": {"field": "K", "type": "quantitative", "scale": {"domain": [2.4, 7.77], "nice": false, "zero": false}, "axis": {"title": "K = N × rms [K]", "values": [3, 4, 5, 6, 7], "format": "d"}},
          "y": {"field": "fit", "type": "quantitative", "scale": {"domain": [-0.425, 0.869], "nice": false, "zero": false}, "axis": {"title": "bᵣ [dex]", "values": [-0.4, -0.2, 0, 0.2, 0.4, 0.6, 0.8], "format": ".1f"}}}},
        {"data": {"name": "pts"}, "transform": [{"filter": "datum.p == 'Nclump'"}], "mark": {"type": "point", "shape": "M-1,0L1,0", "size": 16, "filled": false, "strokeWidth": 0.8, "color": "#111111", "opacity": 1}, "encoding": {
          "x": {"field": "K", "type": "quantitative", "scale": {"domain": [2.4, 7.77], "nice": false, "zero": false}, "axis": {"title": "K = N × rms [K]", "values": [3, 4, 5, 6, 7], "format": "d"}},
          "y": {"field": "lo", "type": "quantitative", "scale": {"domain": [-0.425, 0.869], "nice": false, "zero": false}, "axis": {"title": "bᵣ [dex]", "values": [-0.4, -0.2, 0, 0.2, 0.4, 0.6, 0.8], "format": ".1f"}}}},
        {"data": {"name": "pts"}, "transform": [{"filter": "datum.p == 'Nclump'"}], "mark": {"type": "point", "shape": "M-1,0L1,0", "size": 16, "filled": false, "strokeWidth": 0.8, "color": "#111111", "opacity": 1}, "encoding": {
          "x": {"field": "K", "type": "quantitative", "scale": {"domain": [2.4, 7.77], "nice": false, "zero": false}, "axis": {"title": "K = N × rms [K]", "values": [3, 4, 5, 6, 7], "format": "d"}},
          "y": {"field": "hi", "type": "quantitative", "scale": {"domain": [-0.425, 0.869], "nice": false, "zero": false}, "axis": {"title": "bᵣ [dex]", "values": [-0.4, -0.2, 0, 0.2, 0.4, 0.6, 0.8], "format": ".1f"}}}},
        {"data": {"name": "pts"}, "transform": [{"filter": "datum.p == 'Nclump'"}], "mark": {"type": "circle", "size": 16, "color": "#000000", "opacity": 1}, "encoding": {
          "x": {"field": "K", "type": "quantitative", "scale": {"domain": [2.4, 7.77], "nice": false, "zero": false}, "axis": {"title": "K = N × rms [K]", "values": [3, 4, 5, 6, 7], "format": "d"}},
          "y": {"field": "b", "type": "quantitative", "scale": {"domain": [-0.425, 0.869], "nice": false, "zero": false}, "axis": {"title": "bᵣ [dex]", "values": [-0.4, -0.2, 0, 0.2, 0.4, 0.6, 0.8], "format": ".1f"}}}}
      ]
    },
    {
      "title": {"text": ["M_clump", "slope = -0.0819, p = 0.373"]},
      "width": 193, "height": 133,
      "layer": [
        {"data": {"name": "pts"}, "transform": [{"filter": "datum.p == 'Mclump'"}], "mark": "rule", "encoding": {
          "x": {"field": "K", "type": "quantitative", "scale": {"domain": [2.4, 7.77], "nice": false, "zero": false}, "axis": {"title": "K = N × rms [K]", "values": [3, 4, 5, 6, 7], "format": "d"}},
          "y": {"field": "lo", "type": "quantitative", "scale": {"domain": [-0.951, 1.839], "nice": false, "zero": false}, "axis": {"title": "bᵣ [dex]", "values": [-0.5, 0, 0.5, 1, 1.5], "format": ".1f"}},
          "y2": {"field": "hi"},
          "color": {"condition": {"test": "datum.q == 'd'", "value": "#111111"}, "value": "#777777"},
          "strokeWidth": {"condition": {"test": "datum.q == 'd'", "value": 1}, "value": 1.8}}},
        {"data": {"values": [{}]}, "mark": {"type": "rule", "color": "#8c8c8c", "strokeDash": [1.2, 1.3], "strokeWidth": 0.9}, "encoding": {
          "y": {"datum": 0, "type": "quantitative", "scale": {"domain": [-0.951, 1.839], "nice": false, "zero": false}, "axis": {"title": "bᵣ [dex]", "values": [-0.5, 0, 0.5, 1, 1.5], "format": ".1f"}}}},
        {"data": {"name": "means"}, "transform": [{"filter": "datum.p == 'Mclump'"}], "mark": "rule", "encoding": {
          "y": {"field": "mean", "type": "quantitative", "scale": {"domain": [-0.951, 1.839], "nice": false, "zero": false}, "axis": {"title": "bᵣ [dex]", "values": [-0.5, 0, 0.5, 1, 1.5], "format": ".1f"}},
          "color": {"condition": {"test": "datum.kind == 'pink'", "value": "#f2a3ad"}, "value": "#e0405a"}, "strokeWidth": {"condition": {"test": "datum.kind == 'pink'", "value": 2}, "value": 1.1}}},
        {"data": {"name": "fits"}, "transform": [{"filter": "datum.p == 'Mclump'"}], "mark": {"type": "line", "color": "#3a7dc0", "strokeWidth": 1.1}, "encoding": {
          "x": {"field": "K", "type": "quantitative", "scale": {"domain": [2.4, 7.77], "nice": false, "zero": false}, "axis": {"title": "K = N × rms [K]", "values": [3, 4, 5, 6, 7], "format": "d"}},
          "y": {"field": "fit", "type": "quantitative", "scale": {"domain": [-0.951, 1.839], "nice": false, "zero": false}, "axis": {"title": "bᵣ [dex]", "values": [-0.5, 0, 0.5, 1, 1.5], "format": ".1f"}}}},
        {"data": {"name": "pts"}, "transform": [{"filter": "datum.p == 'Mclump'"}], "mark": {"type": "point", "shape": "M-1,0L1,0", "size": 16, "filled": false, "strokeWidth": 0.8, "color": "#111111", "opacity": 1}, "encoding": {
          "x": {"field": "K", "type": "quantitative", "scale": {"domain": [2.4, 7.77], "nice": false, "zero": false}, "axis": {"title": "K = N × rms [K]", "values": [3, 4, 5, 6, 7], "format": "d"}},
          "y": {"field": "lo", "type": "quantitative", "scale": {"domain": [-0.951, 1.839], "nice": false, "zero": false}, "axis": {"title": "bᵣ [dex]", "values": [-0.5, 0, 0.5, 1, 1.5], "format": ".1f"}}}},
        {"data": {"name": "pts"}, "transform": [{"filter": "datum.p == 'Mclump'"}], "mark": {"type": "point", "shape": "M-1,0L1,0", "size": 16, "filled": false, "strokeWidth": 0.8, "color": "#111111", "opacity": 1}, "encoding": {
          "x": {"field": "K", "type": "quantitative", "scale": {"domain": [2.4, 7.77], "nice": false, "zero": false}, "axis": {"title": "K = N × rms [K]", "values": [3, 4, 5, 6, 7], "format": "d"}},
          "y": {"field": "hi", "type": "quantitative", "scale": {"domain": [-0.951, 1.839], "nice": false, "zero": false}, "axis": {"title": "bᵣ [dex]", "values": [-0.5, 0, 0.5, 1, 1.5], "format": ".1f"}}}},
        {"data": {"name": "pts"}, "transform": [{"filter": "datum.p == 'Mclump'"}], "mark": {"type": "circle", "size": 16, "color": "#000000", "opacity": 1}, "encoding": {
          "x": {"field": "K", "type": "quantitative", "scale": {"domain": [2.4, 7.77], "nice": false, "zero": false}, "axis": {"title": "K = N × rms [K]", "values": [3, 4, 5, 6, 7], "format": "d"}},
          "y": {"field": "b", "type": "quantitative", "scale": {"domain": [-0.951, 1.839], "nice": false, "zero": false}, "axis": {"title": "bᵣ [dex]", "values": [-0.5, 0, 0.5, 1, 1.5], "format": ".1f"}}}}
      ]
    },
    {
      "title": {"text": ["CFE", "slope = -0.0540, p = 0.256"]},
      "width": 193, "height": 133,
      "layer": [
        {"data": {"name": "pts"}, "transform": [{"filter": "datum.p == 'CFE'"}], "mark": "rule", "encoding": {
          "x": {"field": "K", "type": "quantitative", "scale": {"domain": [2.4, 7.77], "nice": false, "zero": false}, "axis": {"title": "K = N × rms [K]", "values": [3, 4, 5, 6, 7], "format": "d"}},
          "y": {"field": "lo", "type": "quantitative", "scale": {"domain": [-0.952, 1.452], "nice": false, "zero": false}, "axis": {"title": "bᵣ [dex]", "values": [-0.5, 0, 0.5, 1], "format": ".1f"}},
          "y2": {"field": "hi"},
          "color": {"condition": {"test": "datum.q == 'd'", "value": "#111111"}, "value": "#777777"},
          "strokeWidth": {"condition": {"test": "datum.q == 'd'", "value": 1}, "value": 1.8}}},
        {"data": {"values": [{}]}, "mark": {"type": "rule", "color": "#8c8c8c", "strokeDash": [1.2, 1.3], "strokeWidth": 0.9}, "encoding": {
          "y": {"datum": 0, "type": "quantitative", "scale": {"domain": [-0.952, 1.452], "nice": false, "zero": false}, "axis": {"title": "bᵣ [dex]", "values": [-0.5, 0, 0.5, 1], "format": ".1f"}}}},
        {"data": {"name": "means"}, "transform": [{"filter": "datum.p == 'CFE'"}], "mark": "rule", "encoding": {
          "y": {"field": "mean", "type": "quantitative", "scale": {"domain": [-0.952, 1.452], "nice": false, "zero": false}, "axis": {"title": "bᵣ [dex]", "values": [-0.5, 0, 0.5, 1], "format": ".1f"}},
          "color": {"condition": {"test": "datum.kind == 'pink'", "value": "#f2a3ad"}, "value": "#e0405a"}, "strokeWidth": {"condition": {"test": "datum.kind == 'pink'", "value": 2}, "value": 1.1}}},
        {"data": {"name": "fits"}, "transform": [{"filter": "datum.p == 'CFE'"}], "mark": {"type": "line", "color": "#3a7dc0", "strokeWidth": 1.1}, "encoding": {
          "x": {"field": "K", "type": "quantitative", "scale": {"domain": [2.4, 7.77], "nice": false, "zero": false}, "axis": {"title": "K = N × rms [K]", "values": [3, 4, 5, 6, 7], "format": "d"}},
          "y": {"field": "fit", "type": "quantitative", "scale": {"domain": [-0.952, 1.452], "nice": false, "zero": false}, "axis": {"title": "bᵣ [dex]", "values": [-0.5, 0, 0.5, 1], "format": ".1f"}}}},
        {"data": {"name": "pts"}, "transform": [{"filter": "datum.p == 'CFE'"}], "mark": {"type": "point", "shape": "M-1,0L1,0", "size": 16, "filled": false, "strokeWidth": 0.8, "color": "#111111", "opacity": 1}, "encoding": {
          "x": {"field": "K", "type": "quantitative", "scale": {"domain": [2.4, 7.77], "nice": false, "zero": false}, "axis": {"title": "K = N × rms [K]", "values": [3, 4, 5, 6, 7], "format": "d"}},
          "y": {"field": "lo", "type": "quantitative", "scale": {"domain": [-0.952, 1.452], "nice": false, "zero": false}, "axis": {"title": "bᵣ [dex]", "values": [-0.5, 0, 0.5, 1], "format": ".1f"}}}},
        {"data": {"name": "pts"}, "transform": [{"filter": "datum.p == 'CFE'"}], "mark": {"type": "point", "shape": "M-1,0L1,0", "size": 16, "filled": false, "strokeWidth": 0.8, "color": "#111111", "opacity": 1}, "encoding": {
          "x": {"field": "K", "type": "quantitative", "scale": {"domain": [2.4, 7.77], "nice": false, "zero": false}, "axis": {"title": "K = N × rms [K]", "values": [3, 4, 5, 6, 7], "format": "d"}},
          "y": {"field": "hi", "type": "quantitative", "scale": {"domain": [-0.952, 1.452], "nice": false, "zero": false}, "axis": {"title": "bᵣ [dex]", "values": [-0.5, 0, 0.5, 1], "format": ".1f"}}}},
        {"data": {"name": "pts"}, "transform": [{"filter": "datum.p == 'CFE'"}], "mark": {"type": "circle", "size": 16, "color": "#000000", "opacity": 1}, "encoding": {
          "x": {"field": "K", "type": "quantitative", "scale": {"domain": [2.4, 7.77], "nice": false, "zero": false}, "axis": {"title": "K = N × rms [K]", "values": [3, 4, 5, 6, 7], "format": "d"}},
          "y": {"field": "b", "type": "quantitative", "scale": {"domain": [-0.952, 1.452], "nice": false, "zero": false}, "axis": {"title": "bᵣ [dex]", "values": [-0.5, 0, 0.5, 1], "format": ".1f"}}}}
      ]
    }
  ],
  "config": {
    "font": "DejaVu Sans",
    "view": {"stroke": null},
    "axis": {
      "domainColor": "#000000", "domainWidth": 0.8,
      "tickColor": "#000000", "tickWidth": 0.8, "tickSize": 3.5,
      "labelFontSize": 7.5, "labelColor": "#222222", "labelPadding": 2,
      "labelFlush": false, "labelOverlap": false,
      "titleFontSize": 7, "titleFontWeight": "normal", "titleColor": "#222222", "titlePadding": 3,
      "gridColor": "#cfcfcf", "gridDash": [2, 2], "gridWidth": 0.6
    },
    "title": {"fontSize": 7.5, "fontWeight": "normal", "color": "#222222", "offset": 3, "lineHeight": 9}
  }
}
